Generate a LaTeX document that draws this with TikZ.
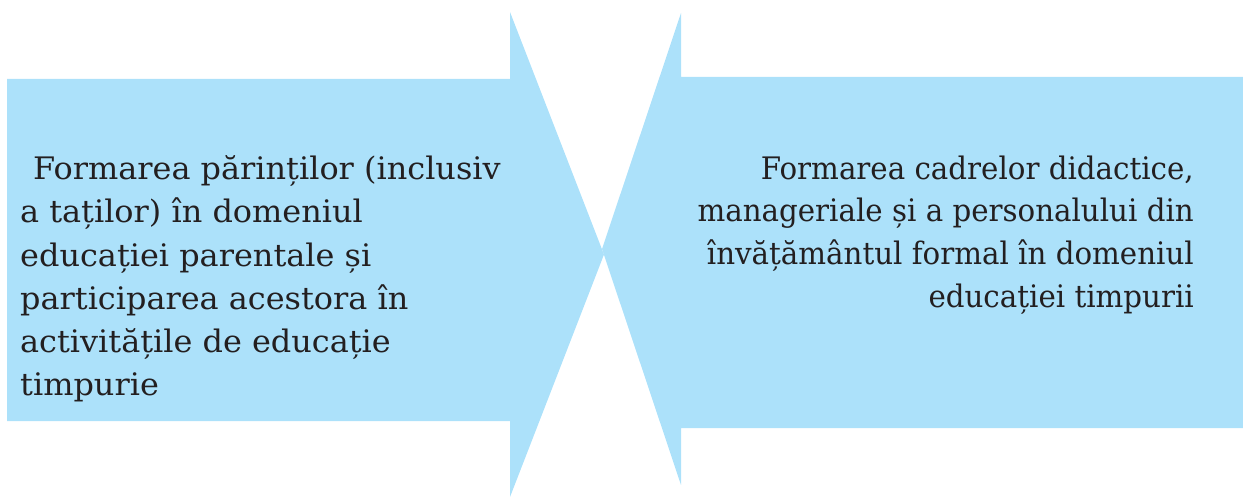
\documentclass[tikz,border=0pt]{standalone}
\usepackage{fontspec}
\setmainfont{DejaVu Serif}
\newfontfamily\leftfont[FakeStretch=1.03]{DejaVu Serif}
\newfontfamily\rightfont[FakeStretch=0.945]{DejaVu Serif}
\definecolor{arrowblue}{RGB}{172,225,250}
\definecolor{textgray}{RGB}{35,31,32}
\begin{document}
\begin{tikzpicture}[x=1pt,y=-1pt,
  arrowshape/.style={fill=arrowblue,draw=none},
  bodytext/.style={inner sep=0pt,text=textgray}]
\useasboundingbox (0,0) rectangle (1243,497);
% left arrow (pointing right)
\path[arrowshape] (7,79) -- (510,79) -- (510,12) -- (604,254.5) -- (510,497) -- (510,421) -- (7,421) -- cycle;
% right arrow (pointing left)
\path[arrowshape] (1243,77) -- (681,77) -- (681,13) -- (602,249) -- (681,485) -- (681,428) -- (1243,428) -- cycle;
\node[bodytext,align=left,anchor=north west,font=\leftfont\fontsize{31pt}{43.2pt}\selectfont] (lefttext) at (20,155.5)
  {\hspace*{13pt}Formarea părinților (inclusiv\\
   a taților) în domeniul\\
   educației parentale și\\
   participarea acestora în\\
   activitățile de educație\\
   timpurie};
\node[bodytext,align=right,anchor=north east,font=\rightfont\fontsize{31pt}{42.6pt}\selectfont] (righttext) at (1194,155.5)
  {Formarea cadrelor didactice,\\
   manageriale și a personalului din\\
   învățământul formal în domeniul\\
   educației timpurii};
\end{tikzpicture}
\end{document}
